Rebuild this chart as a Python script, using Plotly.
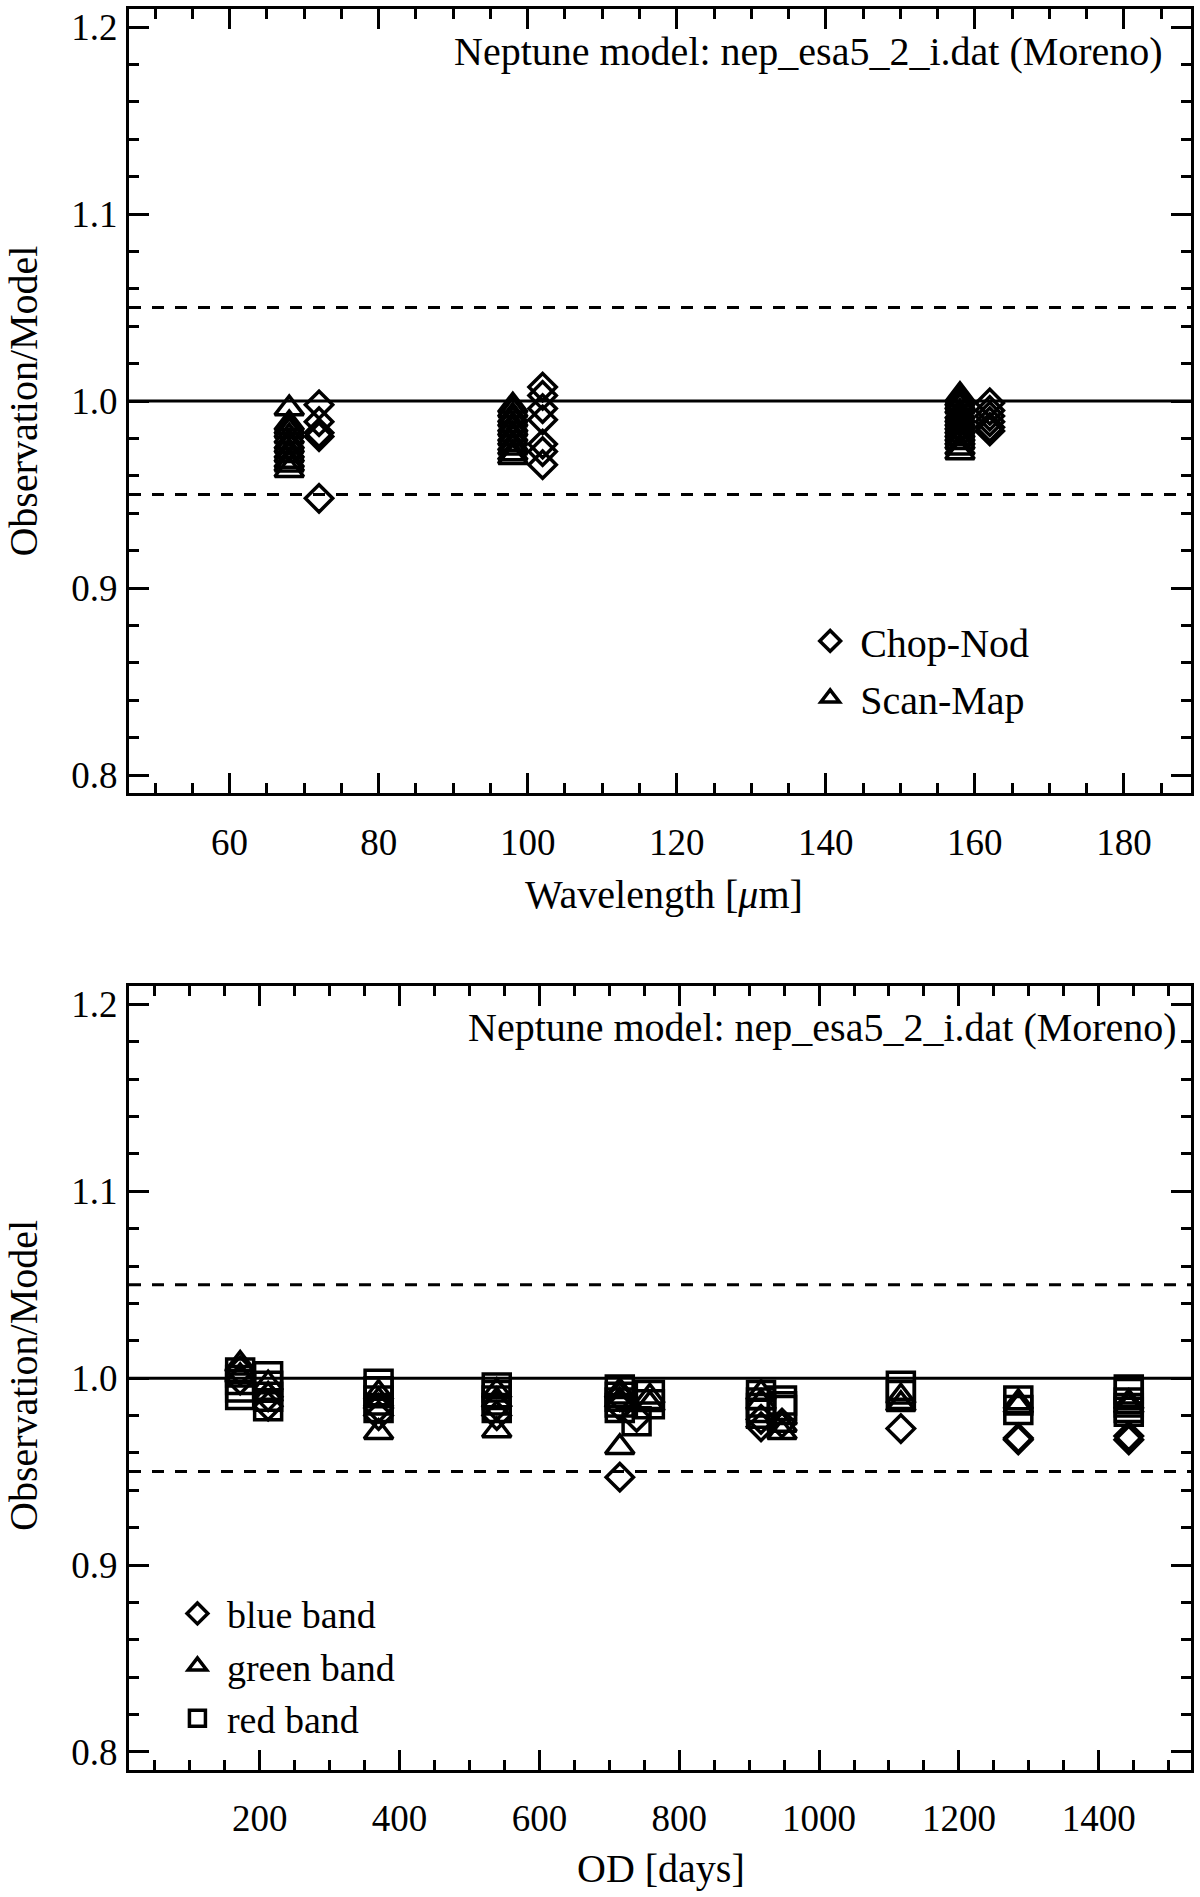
import plotly.graph_objects as go

# ---------------- Top panel: Observation/Model vs wavelength ----------------
chopnod_wl = [72, 72, 72, 72, 72,
              102, 102, 102, 102, 102, 102, 102,
              162, 162, 162, 162, 162, 162]
chopnod_ratio = [0.998, 0.989, 0.983, 0.981, 0.948,
                 1.0075, 1.003, 0.996, 0.990, 0.977, 0.973, 0.966,
                 0.999, 0.995, 0.992, 0.989, 0.986, 0.984]

scanmap_wl = [68, 68, 68, 68, 68, 68, 68, 68, 68, 68, 68, 68,
              98, 98, 98, 98, 98, 98, 98, 98, 98, 98, 98, 98,
              158, 158, 158, 158, 158, 158, 158, 158, 158, 158, 158, 158, 158, 158, 158]
scanmap_ratio = [0.996, 0.988, 0.986, 0.984, 0.981, 0.978, 0.976, 0.973, 0.971, 0.968, 0.966, 0.963,
                 0.9975, 0.995, 0.992, 0.990, 0.987, 0.985, 0.982, 0.980, 0.977, 0.975, 0.972, 0.970,
                 1.003, 1.001, 0.999, 0.997, 0.994, 0.992, 0.990, 0.988, 0.986, 0.984, 0.982, 0.980,
                 0.978, 0.975, 0.9725]

# ---------------- Bottom panel: Observation/Model vs OD ----------------
blue_od = [172, 172, 212, 212, 370, 370, 539, 539, 715, 715, 715, 739,
           917, 917, 947, 1117, 1285, 1285, 1443, 1443]
blue_ratio = [1.004, 0.999, 0.990, 0.985, 0.984, 0.980, 0.985, 0.980, 0.990, 0.985, 0.947, 0.979,
              0.978, 0.974, 0.976, 0.973, 0.968, 0.967, 0.969, 0.967]

green_od = [172, 172, 212, 212, 370, 370, 370, 539, 539, 539, 715, 715, 715, 758, 758,
            917, 917, 947, 947, 1117, 1117, 1285, 1285, 1443, 1443]
green_ratio = [1.0075, 1.001, 0.997, 0.991, 0.992, 0.988, 0.971, 0.993, 0.988, 0.972,
               0.993, 0.988, 0.963, 0.990, 0.986, 0.992, 0.987, 0.975, 0.971,
               0.990, 0.986, 0.987, 0.985, 0.987, 0.985]

red_od = [172, 172, 172, 172, 212, 212, 212, 212, 370, 370, 370, 370,
          539, 539, 539, 539, 715, 715, 715, 715, 739, 758, 758,
          917, 917, 917, 917, 947, 947, 947, 1117, 1117, 1285, 1285,
          1443, 1443, 1443, 1443, 1443]
red_ratio = [1.003, 0.999, 0.995, 0.991, 1.001, 0.996, 0.990, 0.985, 0.997, 0.993, 0.988, 0.984,
             0.995, 0.991, 0.988, 0.984, 0.994, 0.990, 0.987, 0.984, 0.977, 0.991, 0.986,
             0.991, 0.987, 0.984, 0.981, 0.988, 0.985, 0.983, 0.996, 0.991, 0.988, 0.983,
             0.994, 0.992, 0.987, 0.984, 0.982]

ref_line = 1.0
tolerance_lines = [1.05, 0.95]

model_label = "Neptune model: nep_esa5_2_i.dat (Moreno)"

FONT = "Liberation Serif"
TICK_FS = 37
TEXT_FS = 40
NB = "\u00a0"

fig = go.Figure()

def mk(symbol, size):
    return dict(symbol=symbol, size=size, color="black",
                line=dict(color="black", width=3.5))

fig.add_trace(go.Scatter(x=scanmap_wl, y=scanmap_ratio, mode="markers",
                         marker=mk("triangle-up-open", 25), name=NB + "Scan-Map",
                         xaxis="x", yaxis="y", legend="legend", legendrank=2,
                         legendgroup="a"))
fig.add_trace(go.Scatter(x=chopnod_wl, y=chopnod_ratio, mode="markers",
                         marker=mk("diamond-open", 21), name=NB + "Chop-Nod",
                         xaxis="x", yaxis="y", legend="legend", legendrank=1,
                         legendgroup="b"))

fig.add_trace(go.Scatter(x=red_od, y=red_ratio, mode="markers",
                         marker=mk("square-open", 27), name=NB + "red band",
                         xaxis="x2", yaxis="y2", legend="legend2", legendrank=3))
fig.add_trace(go.Scatter(x=green_od, y=green_ratio, mode="markers",
                         marker=mk("triangle-up-open", 25), name=NB + "green band",
                         xaxis="x2", yaxis="y2", legend="legend2", legendrank=2))
fig.add_trace(go.Scatter(x=blue_od, y=blue_ratio, mode="markers",
                         marker=mk("diamond-open", 21), name=NB + "blue band",
                         xaxis="x2", yaxis="y2", legend="legend2", legendrank=1))

tickfont = dict(family=FONT, size=TICK_FS, color="black")

def axis_style(dtick, minor_dtick, rng, domain, anchor, fmt=None, tick0=None, standoff=0):
    d = dict(range=rng, domain=domain, anchor=anchor, dtick=dtick,
             showline=True, linewidth=3, linecolor="black", mirror="allticks",
             ticks="inside", ticklen=20, tickwidth=3, tickcolor="black",
             minor=dict(ticks="inside", ticklen=10, tickwidth=3, tickcolor="black",
                        dtick=minor_dtick, showgrid=False),
             showgrid=False, zeroline=False, tickfont=tickfont,
             ticklabelstandoff=standoff, ticklabeloverflow="allow")
    if fmt:
        d["tickformat"] = fmt
    if tick0 is not None:
        d["tick0"] = tick0
    return d

top_dom = [0.5547, 1.0]
bot_dom = [0.0, 0.4450]

fig.update_layout(
    width=1200, height=1897,
    margin=dict(l=129, r=7, t=6, b=127),
    paper_bgcolor="white", plot_bgcolor="white",
    font=dict(family=FONT, size=TEXT_FS, color="black"),
    xaxis=axis_style(20, 5, [46.5, 189], [0, 1], "y", tick0=0, standoff=14),
    yaxis=axis_style(0.1, 0.02, [0.7903, 1.2097], top_dom, "x", fmt=".1f", tick0=0.8, standoff=1),
    xaxis2=axis_style(200, 50, [13, 1532], [0, 1], "y2", tick0=0, standoff=14),
    yaxis2=axis_style(0.1, 0.02, [0.7903, 1.2097], bot_dom, "x2", fmt=".1f", tick0=0.8, standoff=1),
    legend=dict(x=0.6414, y=0.6596, xanchor="left", yanchor="top",
                bgcolor="rgba(0,0,0,0)", borderwidth=0, tracegroupgap=2,
                font=dict(family=FONT, size=40, color="black")),
    legend2=dict(x=0.0456, y=0.1066, xanchor="left", yanchor="top",
                 bgcolor="rgba(0,0,0,0)", borderwidth=0,
                 font=dict(family=FONT, size=38, color="black")),
)

shapes = []
for xr, yr in (("x", "y"), ("x2", "y2")):
    shapes.append(dict(type="line", xref=xr + " domain", yref=yr, x0=0, x1=1,
                       y0=ref_line, y1=ref_line, line=dict(color="black", width=3)))
    for v in tolerance_lines:
        shapes.append(dict(type="line", xref=xr + " domain", yref=yr, x0=0, x1=1,
                           y0=v, y1=v, line=dict(color="black", width=3, dash="12px,11px")))
fig.update_layout(shapes=shapes)

ann_font = dict(family=FONT, size=TEXT_FS, color="black")
annotations = [
    dict(text=model_label, xref="paper", yref="paper", x=0.9756, y=0.9756,
         xanchor="right", yanchor="middle", showarrow=False, font=ann_font),
    dict(text=model_label, xref="paper", yref="paper", x=0.9891, y=0.4218,
         xanchor="right", yanchor="middle", showarrow=False, font=ann_font),
    dict(text="Wavelength [<i>\u03bc</i>m]", xref="paper", yref="paper", x=0.5034, y=0.4973,
         xanchor="center", yanchor="middle", showarrow=False, font=ann_font),
    dict(text="OD [days]", xref="paper", yref="paper", x=0.5009, y=-0.0561,
         xanchor="center", yanchor="middle", showarrow=False, font=ann_font),
    dict(text="Observation/Model", xref="paper", yref="paper", x=-0.0996, y=0.7772,
         xanchor="center", yanchor="middle", textangle=-90, showarrow=False, font=ann_font),
    dict(text="Observation/Model", xref="paper", yref="paper", x=-0.0996, y=0.2239,
         xanchor="center", yanchor="middle", textangle=-90, showarrow=False, font=ann_font),
]
fig.update_layout(annotations=annotations)

fig.write_html("out.html", config={"displayModeBar": False},
               post_script="document.body.style.margin='0px';")
